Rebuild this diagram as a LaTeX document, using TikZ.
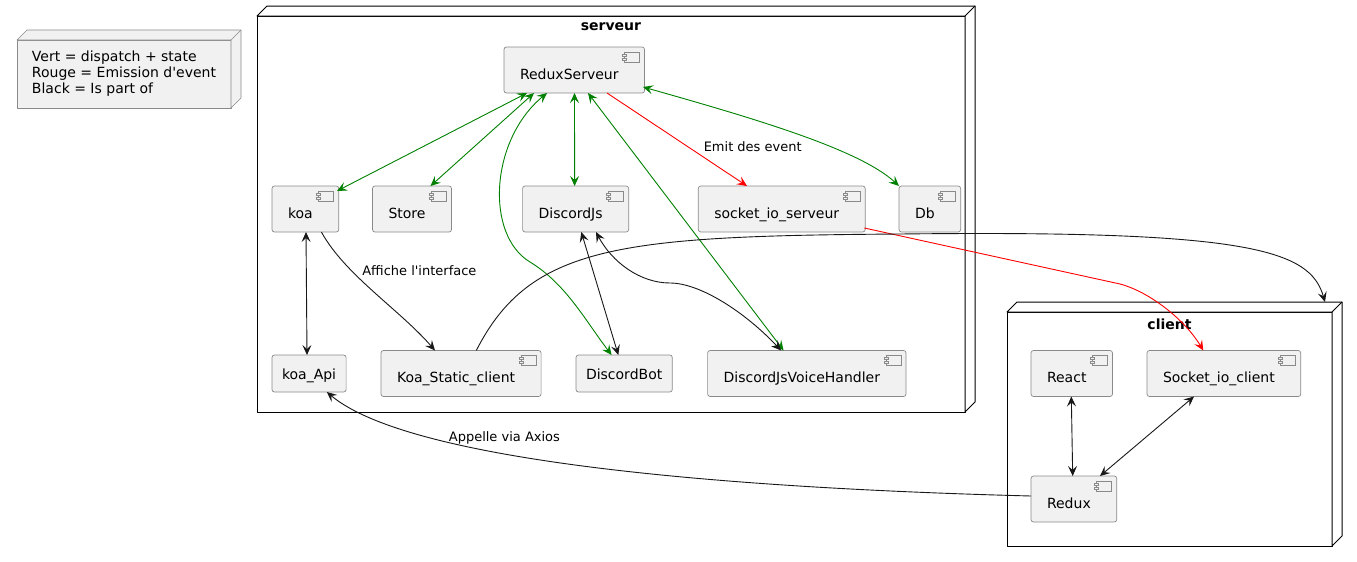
\documentclass[tikz,border=0pt]{standalone}
\usepackage{fontspec}
\setmainfont{DejaVu Sans}
\usetikzlibrary{arrows.meta}

\definecolor{boxfill}{HTML}{F1F1F1}
\definecolor{boxline}{HTML}{181818}
\definecolor{boxedge}{HTML}{8A8A8A}
\definecolor{linkgreen}{HTML}{008000}
\definecolor{linkred}{HTML}{FF0000}

\tikzset{
    compbox/.style={draw=boxedge, line width=0.7pt, fill=boxfill, rounded corners=2.5pt,
        anchor=north west, inner xsep=16pt, inner ysep=0pt, outer sep=0pt,
        text height=32pt, text depth=14pt, font=\fontsize{14}{16}\selectfont,
        execute at end node={\hspace{10pt}},
        path picture={
            \draw[sharp corners, draw=boxedge, line width=0.7pt, fill=boxfill]
                ([xshift=-20pt,yshift=-5pt]path picture bounding box.north east) rectangle ++(15pt,-10pt);
            \draw[sharp corners, draw=boxedge, line width=0.7pt, fill=boxfill]
                ([xshift=-22pt,yshift=-7pt]path picture bounding box.north east) rectangle ++(4pt,-2pt);
            \draw[sharp corners, draw=boxedge, line width=0.7pt, fill=boxfill]
                ([xshift=-22pt,yshift=-11pt]path picture bounding box.north east) rectangle ++(4pt,-2pt);
        }},
    rectbox/.style={draw=boxedge, line width=0.7pt, fill=boxfill, rounded corners=2.5pt,
        anchor=north west, inner xsep=10pt, inner ysep=0pt, outer sep=0pt,
        text height=24pt, text depth=13pt, font=\fontsize{14}{16}\selectfont},
    deploy/.style={draw=black, line width=1pt, line join=round, anchor=north west, inner sep=0pt, outer sep=0pt},
    legendbox/.style={draw=boxedge, line width=0.7pt, fill=boxfill, line join=round, align=left,
        anchor=north west, inner sep=0pt, outer sep=0pt, font=\fontsize{14}{16}\selectfont},
    nodetitle/.style={font=\bfseries\fontsize{14}{16}\selectfont},
    edgelabel/.style={font=\fontsize{13}{15}\selectfont},
    greenlink/.style={draw=linkgreen, line width=0.9pt},
    redlink/.style={draw=linkred, line width=0.9pt},
    blacklink/.style={draw=boxline, line width=0.9pt},
}

% depth of a deployment node: top and right faces
\newcommand{\boxdepth}[2]{%
    \filldraw[#1] (#2.north west) -- ++(10,-10) -- ([shift={(10pt,10pt)}]#2.north east)
        -- ([shift={(10pt,10pt)}]#2.south east) -- (#2.south east) -- (#2.north east) -- cycle;
    \draw[#1] (#2.north east) -- ++(10,-10);}

\begin{document}
\begin{tikzpicture}[x=1pt, y=-1pt, >={Stealth[length=10pt,width=9pt,inset=4pt]}]
    \useasboundingbox (0,0) rectangle (1357,562);

    % legend
    \node[legendbox, minimum width=214, minimum height=68] (legend) at (17,40)
        {Vert = dispatch + state\\Rouge = Emission d\textquotesingle{}event\\Black = Is part of};
    \boxdepth{draw=boxedge, line width=0.7pt, fill=boxfill, line join=round}{legend}

    % deployment nodes
    \node[deploy, minimum width=708, minimum height=396] (serveur) at (257,16) {};
    \boxdepth{draw=black, line width=1pt, fill=white, line join=round}{serveur}
    \node[nodetitle] (serveurname) at (611,27) {serveur};

    \node[deploy, minimum width=325, minimum height=234] (client) at (1007,312) {};
    \boxdepth{draw=black, line width=1pt, fill=white, line join=round}{client}
    \node[nodetitle] (clientname) at (1169.5,324) {client};

    % serveur components
    \node[compbox] (reduxserveur) at (504,47) {ReduxServeur};
    \node[compbox] (koa) at (272,186) {koa};
    \node[compbox] (store) at (372.5,186) {Store};
    \node[compbox] (discordjs) at (522.6,186) {DiscordJs};
    \node[compbox] (socketserveur) at (698.3,186) {socket\_io\_serveur};
    \node[compbox] (db) at (899,186) {Db};
    \node[rectbox] (koaapi) at (272,355) {koa\_Api};
    \node[compbox] (koastatic) at (381,350.5) {Koa\_Static\_client};
    \node[rectbox] (discordbot) at (576,355) {DiscordBot};
    \node[compbox] (voicehandler) at (707.6,350.5) {DiscordJsVoiceHandler};

    % client components
    \node[compbox] (react) at (1031,350.5) {React};
    \node[compbox] (socketclient) at (1147,350.5) {Socket\_io\_client};
    \node[compbox] (redux) at (1031,476) {Redux};

    % dispatch + state
    \draw[greenlink, <->] ([xshift=23pt]reduxserveur.south west) -- ([xshift=65pt,yshift=-5pt]koa.north west);
    \draw[greenlink, <->] ([xshift=30pt]reduxserveur.south west) -- ([xshift=58pt]store.north west);
    \draw[greenlink, <->] ([xshift=43pt]reduxserveur.south west) .. controls (490,140) and (485,235) .. (530,262)
        .. controls (566,284) and (585,320) .. ([xshift=35.6pt]discordbot.north west);
    \draw[greenlink, <->] ([xshift=70.5pt]reduxserveur.south west) -- ([xshift=52pt]discordjs.north west);
    \draw[greenlink, <->] ([xshift=84pt]reduxserveur.south west) -- ([xshift=76pt]voicehandler.north west);
    \draw[greenlink, <->] ([xshift=139pt,yshift=6pt]reduxserveur.south west) .. controls (760,120) and (860,150) .. (db.north west);

    % emission d'event
    \draw[redlink, ->] ([xshift=103pt]reduxserveur.south west) -- ([xshift=48.7pt]socketserveur.north west);
    \node[edgelabel] (emitlabel) at (752.7,147) {Emit des event};
    \draw[redlink, ->] ([xshift=166pt,yshift=4pt]socketserveur.south west) -- (1120,284)
        .. controls (1150,292) and (1185,320) .. ([xshift=56.3pt]socketclient.north west);

    % is part of
    \draw[blacklink, <->] ([xshift=34pt]koa.south west) -- ([xshift=35pt]koaapi.north west);
    \draw[blacklink, ->] ([xshift=49.4pt]koa.south west) .. controls (345,275) and (400,310) .. ([xshift=54pt]koastatic.north west);
    \node[edgelabel] (affichelabel) at (419.4,270.7) {Affiche l\textquotesingle{}interface};
    \draw[blacklink, ->] ([xshift=95.3pt]koastatic.north west) .. controls (530,245) and (620,236) .. (900,234)
        .. controls (1250,230) and (1310,250) .. ([xshift=-7pt,yshift=10pt]client.north east);
    \draw[blacklink, <->] ([xshift=58.7pt]discordjs.south west) -- ([xshift=42.3pt]discordbot.north west);
    \draw[blacklink, <->] ([xshift=73.4pt]discordjs.south west) .. controls (612,262) and (640,283) .. (670,283)
        .. controls (700,283) and (745,312) .. ([xshift=73.5pt]voicehandler.north west);
    \draw[blacklink, <->] ([xshift=40.3pt]react.south west) -- ([xshift=41.7pt]redux.north west);
    \draw[blacklink, <->] ([xshift=47pt]socketclient.south west) -- ([xshift=69pt]redux.north west);
    \draw[blacklink, ->] ([yshift=3pt]redux.west) .. controls (800,490) and (420,470) .. ([xshift=54.8pt]koaapi.south west);
    \node[edgelabel] (appellelabel) at (504.4,437.7) {Appelle via Axios};
\end{tikzpicture}
\end{document}
